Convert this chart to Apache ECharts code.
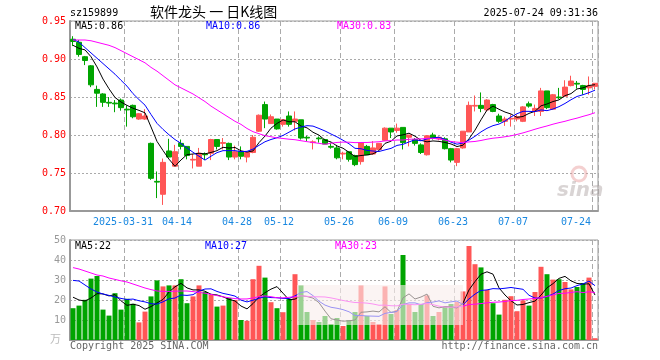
<!DOCTYPE html>
<html><head><meta charset="utf-8">
<script src="https://cdn.jsdelivr.net/npm/echarts@6/dist/echarts.min.js"></script>
<style>html,body{margin:0;padding:0;background:#fff}#c{width:660px;height:360px}</style>
</head><body><div id="c"></div>
<script>
const dates = [
'2025-03-18','2025-03-19','2025-03-20','2025-03-21','2025-03-24','2025-03-25','2025-03-26','2025-03-27','2025-03-28','2025-03-31',
'2025-04-01','2025-04-02','2025-04-03','2025-04-07','2025-04-08','2025-04-09','2025-04-10','2025-04-11','2025-04-14','2025-04-15',
'2025-04-16','2025-04-17','2025-04-18','2025-04-21','2025-04-22','2025-04-23','2025-04-24','2025-04-25','2025-04-28','2025-04-29',
'2025-04-30','2025-05-06','2025-05-07','2025-05-08','2025-05-09','2025-05-12','2025-05-13','2025-05-14','2025-05-15','2025-05-16',
'2025-05-19','2025-05-20','2025-05-21','2025-05-22','2025-05-23','2025-05-26','2025-05-27','2025-05-28','2025-05-29','2025-05-30',
'2025-06-03','2025-06-04','2025-06-05','2025-06-06','2025-06-09','2025-06-10','2025-06-11','2025-06-12','2025-06-13','2025-06-16',
'2025-06-17','2025-06-18','2025-06-19','2025-06-20','2025-06-23','2025-06-24','2025-06-25','2025-06-26','2025-06-27','2025-06-30',
'2025-07-01','2025-07-02','2025-07-03','2025-07-04','2025-07-07','2025-07-08','2025-07-09','2025-07-10','2025-07-11','2025-07-14',
'2025-07-15','2025-07-16','2025-07-17','2025-07-18','2025-07-21','2025-07-22','2025-07-23','2025-07-24'];

const open = [0.926,0.922,0.903,0.891,0.860,0.854,0.843,0.842,0.846,0.834,
0.839,0.821,0.821,0.789,0.739,0.722,0.779,0.759,0.789,0.785,
0.767,0.759,0.775,0.776,0.794,0.789,0.789,0.771,0.778,0.771,
0.777,0.805,0.840,0.815,0.821,0.814,0.825,0.818,0.820,0.797,
0.790,0.796,0.794,0.785,0.783,0.775,0.778,0.773,0.765,0.785,
0.775,0.781,0.793,0.809,0.806,0.810,0.797,0.794,0.787,0.774,
0.800,0.795,0.795,0.782,0.764,0.783,0.804,0.838,0.839,0.833,
0.840,0.825,0.818,0.821,0.821,0.818,0.841,0.831,0.831,0.858,
0.834,0.850,0.851,0.865,0.868,0.865,0.862,0.864];
const close = [0.923,0.906,0.898,0.866,0.855,0.843,0.842,0.841,0.836,0.833,
0.824,0.828,0.825,0.743,0.738,0.764,0.771,0.778,0.785,0.773,
0.768,0.776,0.774,0.794,0.785,0.790,0.771,0.778,0.772,0.777,
0.797,0.826,0.821,0.824,0.808,0.820,0.814,0.821,0.796,0.796,
0.791,0.795,0.788,0.784,0.770,0.776,0.768,0.761,0.790,0.774,
0.783,0.789,0.809,0.804,0.809,0.790,0.800,0.789,0.777,0.799,
0.796,0.797,0.782,0.767,0.782,0.805,0.839,0.839,0.835,0.846,
0.831,0.818,0.821,0.822,0.824,0.837,0.838,0.835,0.858,0.836,
0.853,0.849,0.863,0.871,0.867,0.860,0.865,0.868];
const low = [0.917,0.903,0.892,0.863,0.837,0.837,0.837,0.830,0.832,0.811,
0.822,0.820,0.820,0.741,0.717,0.708,0.771,0.759,0.781,0.768,
0.756,0.759,0.767,0.767,0.781,0.781,0.767,0.768,0.768,0.764,
0.776,0.804,0.809,0.815,0.807,0.811,0.811,0.806,0.794,0.792,
0.781,0.790,0.788,0.782,0.768,0.768,0.765,0.759,0.761,0.774,
0.774,0.781,0.792,0.796,0.803,0.781,0.785,0.786,0.775,0.773,
0.794,0.793,0.781,0.764,0.759,0.782,0.804,0.831,0.830,0.831,
0.830,0.816,0.812,0.811,0.818,0.817,0.836,0.825,0.825,0.834,
0.833,0.847,0.851,0.864,0.861,0.853,0.853,0.860];
const high = [0.930,0.925,0.904,0.892,0.865,0.855,0.850,0.846,0.848,0.839,
0.840,0.829,0.834,0.790,0.752,0.769,0.795,0.787,0.794,0.785,
0.775,0.783,0.777,0.795,0.794,0.796,0.790,0.786,0.785,0.778,
0.800,0.827,0.844,0.827,0.821,0.821,0.831,0.831,0.820,0.799,
0.793,0.798,0.795,0.790,0.787,0.778,0.778,0.774,0.790,0.787,
0.792,0.789,0.810,0.809,0.815,0.810,0.800,0.796,0.789,0.800,
0.803,0.798,0.797,0.783,0.783,0.805,0.844,0.852,0.856,0.847,
0.841,0.828,0.824,0.827,0.827,0.838,0.844,0.840,0.862,0.858,
0.854,0.862,0.872,0.878,0.871,0.866,0.877,0.868];
const volume = [15.9,17.2,20.1,30.7,32.0,15.2,12.2,23.4,15.2,20.6,
18.1,8.8,14.2,21.8,29.8,26.8,27.3,27.3,30.4,18.4,
21.8,27.3,24.0,22.8,16.7,17.2,21.0,20.0,10.0,9.6,
30.4,37.1,31.2,18.9,15.9,13.9,20.6,32.9,27.3,14.0,
10.0,9.0,12.0,8.0,11.0,7.0,10.0,14.0,27.3,12.0,
9.0,8.0,26.8,13.0,15.0,42.5,18.0,14.0,18.0,22.3,
12.0,14.0,17.0,18.0,19.0,24.3,47.0,37.9,36.3,25.0,
18.4,12.7,20.1,21.9,14.4,19.8,17.2,24.0,36.6,32.9,
30.2,30.4,29.0,25.3,26.5,28.5,31.2,0.9];

const earlyMA5 = [0.918,0.914,0.912,0.903];
const earlyMA10 = [0.926,0.922,0.915,0.908,0.901,0.894,0.887,0.880,0.872];
const earlyMA30 = [0.925,0.925,0.925,0.924,0.922,0.920,0.918,0.915,0.911,0.907,
0.903,0.899,0.895,0.889,0.884,0.878,0.872,0.866,0.862,0.858,
0.854,0.849,0.844,0.838,0.833,0.828,0.823,0.818,0.814];
const earlyVMA5 = [21.4,20.0,19.5,21.0];
const earlyVMA10 = [29.8,29.5,27.5,25.5,24.0,23.0,22.3,21.5,20.8];
const earlyVMA30 = [36.2,35.5,34.5,33.5,32.5,32.0,31.0,30.3,29.6,29.0,
28.0,27.0,26.0,25.2,24.5,24.3,24.3,24.4,24.5,24.5,
24.2,23.8,23.4,22.8,22.2,21.6,21.1,20.7,20.5];

const tickDates = ['2025-03-31','2025-04-14','2025-04-28','2025-05-12','2025-05-26','2025-06-09','2025-06-23','2025-07-07','2025-07-24'];
const tickLabels = ['2025-03-31','04-14','04-28','05-12','05-26','06-09','06-23','07-07','07-24'];
const priceTicks = ['0.70','0.75','0.80','0.85','0.90','0.95'];
const priceLegend = ['MA5:0.86','MA10:0.86','MA30:0.83'];
const volLegend = ['MA5:22','MA10:27','MA30:23'];

function ma(arr, n, early) {
  return arr.map((v, i) => {
    if (i < n - 1) return early[i];
    let s = 0; for (let k = i - n + 1; k <= i; k++) s += arr[k];
    return s / n;
  });
}

const RED = '#ff5656', GREEN = '#00a400';
const MONO = 'DejaVu Sans Mono';
const kdata = dates.map((d, i) => [open[i], close[i], low[i], high[i]]);
const vdata = volume.map((v, i) => ({ value: v, itemStyle: { color: close[i] >= open[i] ? RED : GREEN } }));

const showTick = (idx, val) => tickDates.indexOf(val) >= 0;
const gridLineX = { show: true, interval: showTick, lineStyle: { color: '#aaa', type: [5, 3], width: 1 } };
const gridLineY = { show: true, lineStyle: { color: '#aaa', type: [2, 2], width: 1 } };

const chart = echarts.init(document.getElementById('c'), null, { renderer: 'canvas' });
chart.setOption({
  animation: false,
  backgroundColor: '#fff',
  grid: [
    { left: 70, top: 21, width: 528, height: 190, show: true, borderColor: '#999', borderWidth: 1 },
    { left: 70, top: 240, width: 528, height: 100, show: true, borderColor: '#999', borderWidth: 1 }
  ],
  xAxis: [
    { type: 'category', gridIndex: 0, data: dates, boundaryGap: true,
      axisLine: { lineStyle: { color: '#999', width: 2 } }, axisTick: { show: false },
      splitLine: gridLineX,
      axisLabel: { interval: showTick, margin: 6,
        formatter: (v) => { const k = tickDates.indexOf(v); return k === tickDates.length - 1 ? '{l|' + tickLabels[k] + '}' : '{n|' + tickLabels[k] + '}'; },
        rich: {
          n: { color: '#1a88e0', fontFamily: MONO, fontSize: 10, padding: [0, 8, 0, 0] },
          l: { color: '#1a88e0', fontFamily: MONO, fontSize: 10, padding: [0, 38, 0, 0] }
        } } },
    { type: 'category', gridIndex: 1, data: dates, boundaryGap: true,
      axisLine: { lineStyle: { color: '#999', width: 2 } }, axisTick: { show: false },
      splitLine: gridLineX, axisLabel: { show: false } }
  ],
  yAxis: [
    { type: 'value', gridIndex: 0, min: 0.70, max: 0.95, interval: 0.05,
      axisLine: { show: true, lineStyle: { color: '#999', width: 2 } }, axisTick: { show: false },
      splitLine: gridLineY,
      axisLabel: { color: '#ff0000', fontFamily: MONO, fontSize: 10, margin: 4,
        formatter: (v) => priceTicks[Math.round((v - 0.70) / 0.05)] } },
    { type: 'value', gridIndex: 1, min: 0, max: 50, interval: 10,
      axisLine: { show: true, lineStyle: { color: '#999', width: 2 } }, axisTick: { show: false },
      splitLine: gridLineY,
      axisLabel: { color: '#999', fontFamily: MONO, fontSize: 10, margin: 4,
        formatter: (v) => v === 0 ? '' : String(v) } }
  ],
  series: [
    { type: 'candlestick', xAxisIndex: 0, yAxisIndex: 0, data: kdata, barWidth: 5,
      itemStyle: { color: RED, color0: GREEN, borderColor: RED, borderColor0: GREEN, borderWidth: 1 } },
    { type: 'line', xAxisIndex: 0, yAxisIndex: 0, data: ma(close, 5, earlyMA5), showSymbol: false, lineStyle: { color: '#000', width: 1 }, z: 5 },
    { type: 'line', xAxisIndex: 0, yAxisIndex: 0, data: ma(close, 10, earlyMA10), showSymbol: false, lineStyle: { color: '#0000ff', width: 1 }, z: 5 },
    { type: 'line', xAxisIndex: 0, yAxisIndex: 0, data: ma(close, 30, earlyMA30), showSymbol: false, lineStyle: { color: '#ff00ff', width: 1 }, z: 5 },
    { type: 'bar', xAxisIndex: 1, yAxisIndex: 1, data: vdata, barWidth: 5 },
    { type: 'line', xAxisIndex: 1, yAxisIndex: 1, data: ma(volume, 5, earlyVMA5), showSymbol: false, lineStyle: { color: '#000', width: 1 }, z: 5 },
    { type: 'line', xAxisIndex: 1, yAxisIndex: 1, data: ma(volume, 10, earlyVMA10), showSymbol: false, lineStyle: { color: '#0000ff', width: 1 }, z: 5 },
    { type: 'line', xAxisIndex: 1, yAxisIndex: 1, data: ma(volume, 30, earlyVMA30), showSymbol: false, lineStyle: { color: '#ff00ff', width: 1 }, z: 5 }
  ],
  graphic: [
    { type: 'text', left: 70, top: 8, style: { text: 'sz159899', font: '10px "DejaVu Sans Mono"', fill: '#000' } },
    { type: 'text', left: 150, top: 5, style: { text: '软件龙头 一 日K线图', font: '14px "Noto Sans CJK SC"', fill: '#000' } },
    { type: 'text', right: 62, top: 8, style: { text: '2025-07-24 09:31:36', font: '10px "DejaVu Sans Mono"', fill: '#000', align: 'right' } },
    { type: 'text', left: 75, top: 21, z: 20, style: { text: priceLegend[0], font: '10px "DejaVu Sans Mono"', fill: '#000' } },
    { type: 'text', left: 206, top: 21, z: 20, style: { text: priceLegend[1], font: '10px "DejaVu Sans Mono"', fill: '#0000ff' } },
    { type: 'text', left: 337, top: 21, z: 20, style: { text: priceLegend[2], font: '10px "DejaVu Sans Mono"', fill: '#ff00ff' } },
    { type: 'text', left: 75, top: 241, z: 20, style: { text: volLegend[0], font: '10px "DejaVu Sans Mono"', fill: '#000' } },
    { type: 'text', left: 205, top: 241, z: 20, style: { text: volLegend[1], font: '10px "DejaVu Sans Mono"', fill: '#0000ff' } },
    { type: 'text', left: 335, top: 241, z: 20, style: { text: volLegend[2], font: '10px "DejaVu Sans Mono"', fill: '#ff00ff' } },
    { type: 'text', left: 50, top: 333, style: { text: '万', font: '11px "Noto Sans CJK SC"', fill: '#bbb' } },
    { type: 'text', left: 70, top: 341, style: { text: 'Copyright 2025 SINA.COM', font: '10px "DejaVu Sans Mono"', fill: '#666' } },
    { type: 'text', right: 62, top: 341, style: { text: 'http://finance.sina.com.cn', font: '10px "DejaVu Sans Mono"', fill: '#666', align: 'right' } },
    { type: 'rect', z: 30, shape: { x: 297, y: 285, width: 166, height: 40 }, style: { fill: 'rgba(248,238,236,0.62)' } },
    { type: 'circle', z: 30, shape: { cx: 579, cy: 174, r: 7 }, style: { fill: 'none', stroke: 'rgba(230,150,150,0.45)', lineWidth: 3 } },
    { type: 'text', z: 30, left: 557, top: 181, style: { text: 'sina', font: 'italic bold 20px "DejaVu Sans"', fill: 'rgba(170,160,160,0.45)' } }
  ]
});
</script></body></html>
